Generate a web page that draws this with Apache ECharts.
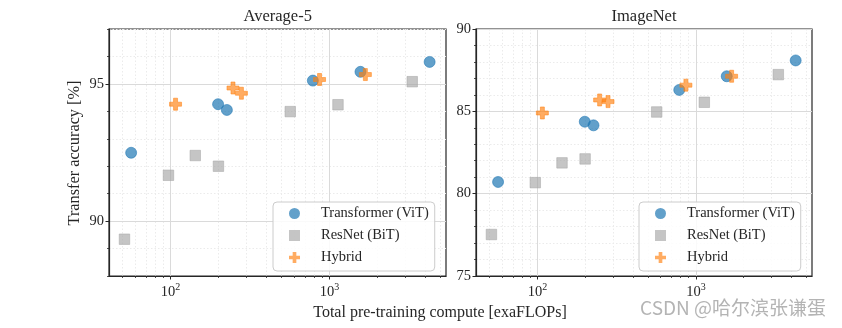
<!DOCTYPE html>
<html>
<head>
<meta charset="utf-8">
<script src="https://cdn.jsdelivr.net/npm/echarts@6/dist/echarts.min.js"></script>
<style>
html,body{margin:0;padding:0;background:#fff;}
#chart{width:842px;height:328px;}
</style>
</head>
<body>
<div id="chart"></div>
<script>
// ---- data ----
const seriesNames = ['Transformer (ViT)', 'ResNet (BiT)', 'Hybrid'];
const panelTitles = ['Average-5', 'ImageNet'];
const vitCompute = [56.5, 199, 226, 785, 1565, 4260];
const vitAvg5 = [92.49, 94.26, 94.05, 95.12, 95.44, 95.80];
const vitImageNet = [80.71, 84.37, 84.15, 86.30, 87.13, 88.09];
const bitCompute = [51.3, 97, 143, 200, 566, 1130, 3311];
const bitAvg5 = [89.34, 91.67, 92.39, 92.00, 93.99, 94.24, 95.08];
const bitImageNet = [77.52, 80.67, 81.87, 82.11, 84.96, 85.55, 87.23];
const hybCompute = [107.5, 247, 279, 865, 1680];
const hybAvg5 = [94.26, 94.85, 94.66, 95.16, 95.34];
const hybImageNet = [84.90, 85.69, 85.59, 86.59, 87.13];
const xMajorTicks = [100, 1000];
const xMinorTicks = [50, 60, 70, 80, 90, 200, 300, 400, 500, 600, 700, 800, 900, 2000, 3000, 4000, 5000];
const yMajorAvg5 = [90, 95];
const yMinorAvg5 = [88, 89, 91, 92, 93, 94, 96, 97];
const yMajorImageNet = [75, 80, 85, 90];
const yMinorImageNet = [76, 77, 78, 79, 81, 82, 83, 84, 86, 87, 88, 89];
const xLabel = 'Total pre-training compute [exaFLOPs]';
const yLabel = 'Transfer accuracy [%]';

// ---- style ----
const FONT = '"Liberation Serif", "Times New Roman", serif';
const X_MIN = 41, X_MAX = 5400;
const SYM_CIRCLE = 'path://M0,-1A1,1,0,1,1,0,1A1,1,0,1,1,0,-1Z';
const SYM_SQUARE = 'path://M0,0H1V1H0Z';
const SYM_PLUS = 'path://M-1,-3H1V-1H3V1H1V3H-1V1H-3V-1H-1Z';
const COLORS = ['#1f77b4', '#a6a6a6', '#ff7f0e'];

const grids = [
  {left: 109, right: 396, top: 29, bottom: 52},
  {left: 476, right: 30, top: 29, bottom: 52}
];
const yRanges = [[88, 97], [75, 90]];
const yMajors = [yMajorAvg5, yMajorImageNet];
const yMinors = [yMinorAvg5, yMinorImageNet];

const xAxes = [], yAxes = [];
grids.forEach((g, i) => {
  xAxes.push({
    type: 'log', logBase: 10, gridIndex: i, min: X_MIN, max: X_MAX, position: 'bottom',
    axisLine: {show: true, onZero: false, lineStyle: {color: '#262626', width: 1.2}},
    axisTick: {show: true, inside: false, length: 3.5, customValues: xMajorTicks, lineStyle: {color: '#262626'}},
    axisLabel: {show: true, customValues: xMajorTicks, margin: 6,
      formatter: v => '{b|10}{s|' + Math.round(Math.log10(v)) + '}',
      rich: {
        b: {fontFamily: FONT, fontSize: 14.5, color: '#262626', lineHeight: 18, verticalAlign: 'bottom'},
        s: {fontFamily: FONT, fontSize: 10, color: '#262626', lineHeight: 18, verticalAlign: 'top', padding: [0, 0, 6, 0]}
      }},
    splitLine: {show: true, lineStyle: {color: '#dadada', width: 1}},
    z: 3
  });
  xAxes.push({
    type: 'log', logBase: 10, gridIndex: i, min: X_MIN, max: X_MAX, position: 'bottom',
    axisLine: {show: false, onZero: false},
    axisTick: {show: true, inside: false, length: 2, customValues: xMinorTicks, lineStyle: {color: '#262626', width: 0.8}},
    axisLabel: {show: false},
    splitLine: {show: true, lineStyle: {color: '#ebebeb', width: 1, type: [1.5, 2]}},
    z: 2
  });
  yAxes.push({
    type: 'value', gridIndex: i, min: yRanges[i][0], max: yRanges[i][1], position: 'left',
    axisLine: {show: true, onZero: false, lineStyle: {color: '#262626', width: 1.2}},
    axisTick: {show: true, inside: false, length: 3.5, customValues: yMajors[i], lineStyle: {color: '#262626'}},
    axisLabel: {show: true, customValues: yMajors[i], margin: 5, fontFamily: FONT, fontSize: 14.5, color: '#262626'},
    splitLine: {show: true, lineStyle: {color: '#dadada', width: 1}},
    z: 3
  });
  yAxes.push({
    type: 'value', gridIndex: i, min: yRanges[i][0], max: yRanges[i][1], position: 'left',
    axisLine: {show: false, onZero: false},
    axisTick: {show: true, inside: false, length: 2, customValues: yMinors[i], lineStyle: {color: '#262626', width: 0.8}},
    axisLabel: {show: false},
    splitLine: {show: true, lineStyle: {color: '#ebebeb', width: 1, type: [1.5, 2]}},
    z: 2
  });
});

function pts(xs, ys) { return xs.map((x, k) => [x, ys[k]]); }

const panelData = [
  [pts(vitCompute, vitAvg5), pts(bitCompute, bitAvg5), pts(hybCompute, hybAvg5)],
  [pts(vitCompute, vitImageNet), pts(bitCompute, bitImageNet), pts(hybCompute, hybImageNet)]
];
const symbols = [SYM_CIRCLE, SYM_SQUARE, SYM_PLUS];
const sizes = [11, 10.5, 12];
const opac = [0.7, 0.65, 0.65];

const series = [];
panelData.forEach((pd, i) => {
  pd.forEach((d, s) => {
    series.push({
      type: 'scatter', name: seriesNames[s], xAxisIndex: i * 2, yAxisIndex: i * 2,
      data: d, symbol: symbols[s], symbolSize: sizes[s], symbolKeepAspect: true,
      itemStyle: {color: COLORS[s], opacity: opac[s], borderColor: COLORS[s], borderWidth: 0.8},
      emphasis: {disabled: true}, z: 5
    });
  });
});

const legendTpl = (left) => ({
  show: true, orient: 'vertical', left: left, top: 202,
  backgroundColor: 'rgba(255,255,255,0.85)', borderColor: '#cccccc', borderWidth: 1, borderRadius: 4,
  padding: [4, 6, 6, 16], itemWidth: 11, itemHeight: 11, itemGap: 7,
  textStyle: {fontFamily: FONT, fontSize: 14.5, color: '#262626', padding: [0, 0, 0, 16]},
  selectedMode: false,
  data: seriesNames.map((n, s) => ({name: n, icon: symbols[s], itemStyle: {opacity: opac[s], borderWidth: 0}})),
  z: 10
});

const option = {
  animation: false,
  backgroundColor: '#ffffff',
  grid: grids.map(g => Object.assign({show: true, borderColor: '#262626', borderWidth: 1.2, backgroundColor: 'transparent', containLabel: false}, g)),
  xAxis: xAxes,
  yAxis: yAxes,
  legend: [legendTpl(273), legendTpl(639)],
  series: series,
  graphic: [
    {type: 'text', x: 277.7, y: 17, style: {text: panelTitles[0], font: '16.5px ' + FONT, fill: '#262626', align: 'center', verticalAlign: 'middle'}},
    {type: 'text', x: 644, y: 17, style: {text: panelTitles[1], font: '16.5px ' + FONT, fill: '#262626', align: 'center', verticalAlign: 'middle'}},
    {type: 'text', x: 440, y: 313, style: {text: xLabel, font: '16px ' + FONT, fill: '#262626', align: 'center', verticalAlign: 'middle'}},
    {type: 'text', x: 75, y: 153, rotation: Math.PI / 2, style: {text: yLabel, font: '16.3px ' + FONT, fill: '#262626', align: 'center', verticalAlign: 'middle'}},
    {type: 'text', x: 826, y: 308, style: {text: 'CSDN @哈尔滨张谦蛋', font: '19px "Noto Sans CJK SC", "Noto Sans", sans-serif', fill: '#b4b4b4', align: 'right', verticalAlign: 'middle'}}
  ]
};

const chart = echarts.init(document.getElementById('chart'), null, {renderer: 'canvas'});
chart.setOption(option);
</script>
</body>
</html>
